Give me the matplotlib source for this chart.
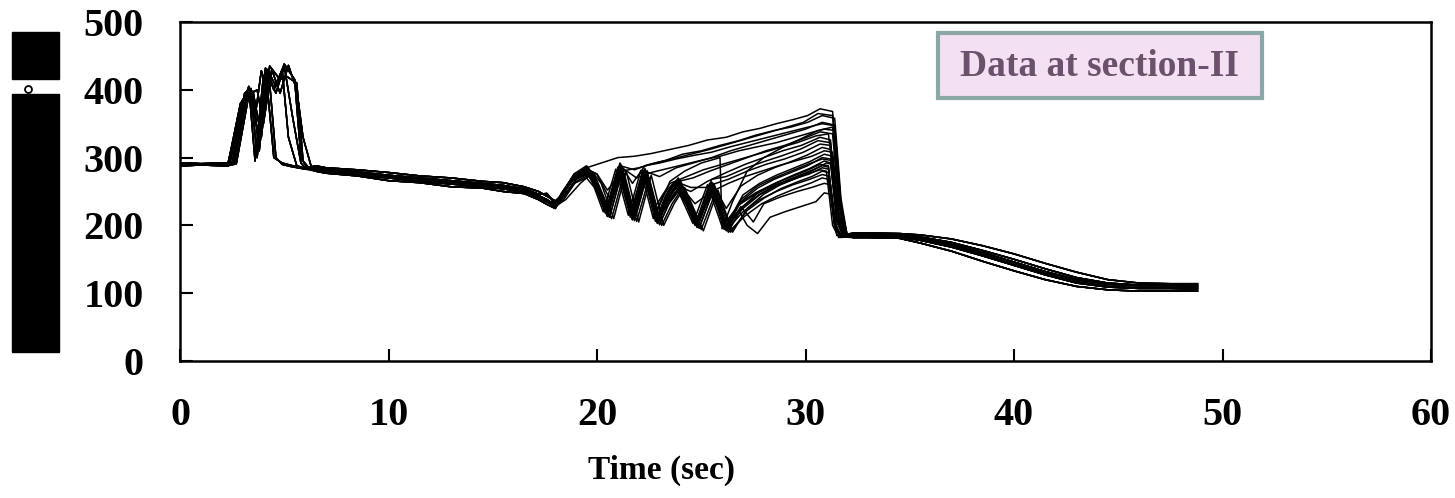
import matplotlib.pyplot as plt
from matplotlib.patches import Rectangle
from matplotlib.lines import Line2D

# ---- data (time in s, temperature) ----
x_ticks = [0, 10, 20, 30, 40, 50, 60]
y_ticks = [0, 100, 200, 300, 400, 500]
x_label = 'Time (sec)'
y_label = 'Temperature (°C)'
legend_text = 'Data at section-II'

# flat start
start_t = [0.0, 1.0, 2.3]
start_v = [[290, 290, 290], [292, 291, 292], [288, 289, 288]]

# first heating peaks (several variants)
peak_t = [
    [2.4, 3.0, 3.4, 3.7, 4.1, 4.5, 4.9, 5.2, 5.6, 6.0],
    [2.5, 3.1, 3.5, 3.8, 4.2, 4.6, 5.0, 5.4, 5.8, 6.0],
    [2.3, 2.9, 3.3, 3.6, 4.0, 4.3, 4.6, 4.9, 5.3, 6.0],
    [2.6, 3.2, 3.5, 3.9, 4.3, 4.8, 5.1, 5.6, 5.9, 6.2],
    [2.5, 3.1, 3.4, 3.8, 4.2, 4.6, 5.0, 5.5, 5.8, 6.1],
    [2.3, 2.9, 3.3, 3.6, 3.9, 4.2, 4.5, 4.9, 5.4, 6.0],
    [2.7, 3.3, 3.7, 4.0, 4.4, 4.8, 5.2, 5.6, 5.9, 6.3],
]
peak_v = [
    [292, 385, 400, 300, 432, 400, 430, 330, 288, 284],
    [290, 380, 395, 310, 425, 395, 435, 360, 292, 285],
    [291, 370, 405, 295, 420, 410, 300, 290, 287, 283],
    [290, 390, 398, 330, 435, 415, 420, 410, 295, 284],
    [291, 395, 402, 320, 430, 405, 438, 415, 300, 285],
    [290, 380, 398, 360, 428, 400, 300, 292, 288, 284],
    [291, 392, 400, 350, 430, 395, 436, 400, 330, 286],
]

# slow cooling 6 - 18 s
mid_t = [6.5, 7.0, 8.5, 10.0, 11.5, 13.0, 14.5, 15.5, 16.5, 17.2, 17.6, 18.0]
mid_v = [
    [284, 281, 277, 273, 268, 264, 260, 257, 252, 244, 238, 230],
    [282, 279, 274, 270, 265, 261, 257, 254, 249, 241, 235, 228],
    [286, 283, 279, 274, 270, 266, 262, 259, 254, 246, 247, 232],
    [280, 277, 273, 266, 263, 257, 255, 250, 247, 238, 231, 225],
    [288, 285, 282, 278, 273, 270, 265, 263, 257, 250, 243, 236],
]

# oscillating zone and ramp up to ~31 s, one entry per trace
osc_t = [
    [18.3, 18.9, 19.5, 20.2, 21.0, 21.8, 22.6, 23.5, 24.4, 25.3, 26.2, 27.0, 27.8, 28.6, 29.4, 30.1, 30.7, 31.3, 31.6, 31.9],
    [18.3, 18.9, 19.5, 19.9, 20.5, 21.1, 21.8, 22.5, 23.3, 24.1, 25.0, 25.9, 26.8, 27.6, 28.5, 29.3, 30.1, 30.8, 31.4, 31.7, 32.0],
    [18.3, 18.9, 19.5, 19.9, 20.5, 21.1, 21.7, 22.3, 23.0, 23.8, 24.6, 25.5, 26.4, 27.3, 28.2, 29.1, 30.0, 30.8, 31.4, 31.7, 32.0],
    [18.3, 18.9, 19.5, 19.9, 20.5, 21.1, 21.7, 22.3, 22.9, 23.5, 24.2, 25.0, 25.9, 26.0, 26.5, 27.2, 28.0, 28.9, 29.8, 30.6, 31.3, 31.6, 31.9],
    [18.3, 18.9, 19.5, 19.9, 20.5, 21.1, 21.7, 22.3, 22.9, 23.4, 23.9, 24.6, 25.4, 26.3, 27.2, 28.1, 29.0, 29.9, 30.7, 31.3, 31.6, 31.9],
    [18.3, 18.9, 19.5, 19.9, 20.5, 21.1, 21.7, 22.3, 22.9, 23.4, 23.9, 24.5, 25.3, 26.2, 27.1, 28.0, 28.9, 29.8, 30.7, 31.2, 31.5, 31.8],
    [18.3, 18.9, 19.5, 19.9, 20.5, 21.1, 21.7, 22.3, 22.9, 23.4, 23.9, 24.8, 25.5, 26.3, 27.2, 28.1, 29.0, 29.9, 30.7, 31.2, 31.5, 31.8],
    [18.3, 18.9, 19.5, 19.9, 20.5, 21.1, 21.7, 22.3, 22.9, 23.4, 23.9, 24.8, 25.5, 26.2, 26.9, 27.7, 28.5, 29.3, 30.1, 30.8, 31.2, 31.5, 31.8],
    [18.4, 19.0, 19.6, 20.0, 20.6, 21.2, 21.8, 22.4, 23.0, 23.5, 24.0, 24.9, 25.6, 26.3, 27.0, 27.8, 28.6, 29.4, 30.2, 30.9, 31.2, 31.5, 31.8],
    [18.2, 18.8, 19.4, 19.8, 20.4, 21.0, 21.6, 22.2, 22.8, 23.3, 23.8, 24.7, 25.4, 26.1, 26.8, 27.6, 28.4, 29.2, 30.0, 30.7, 31.1, 31.4, 31.7],
    [18.3, 18.9, 19.5, 19.9, 20.5, 21.1, 21.7, 22.3, 22.9, 23.4, 23.9, 24.8, 25.5, 26.2, 27.0, 27.8, 28.6, 29.4, 30.2, 30.8, 31.1, 31.4, 31.7],
    [18.4, 19.0, 19.6, 20.1, 20.7, 21.3, 21.9, 22.5, 23.1, 23.6, 24.1, 25.0, 25.7, 26.4, 27.2, 28.0, 28.8, 29.6, 30.3, 30.8, 31.1, 31.4, 31.7],
    [18.3, 18.9, 19.5, 19.9, 20.5, 21.1, 21.7, 22.3, 22.9, 23.4, 23.9, 24.8, 25.5, 26.2, 27.0, 27.8, 28.6, 29.4, 30.2, 30.8, 31.1, 31.4, 31.7],
    [18.3, 18.9, 19.5, 19.9, 20.5, 21.1, 21.7, 22.3, 22.9, 23.4, 23.9, 24.8, 25.5, 26.2, 26.9, 27.5, 28.0, 28.8, 29.6, 30.3, 30.9, 31.2, 31.5, 31.8],
    [18.3, 18.9, 19.5, 19.9, 20.5, 21.1, 21.7, 22.3, 22.9, 23.4, 23.9, 24.8, 25.5, 26.2, 26.8, 27.2, 27.7, 28.3, 29.0, 29.8, 30.5, 30.9, 31.2, 31.5],
    [18.3, 18.9, 19.5, 19.9, 20.5, 21.1, 21.7, 22.3, 22.9, 23.4, 23.9, 24.5, 25.6, 26.2, 26.9, 27.7, 28.5, 29.3, 30.1, 30.8, 31.2, 31.5, 31.8],
    [18.3, 18.9, 19.5, 20.0, 20.6, 21.2, 21.9, 22.6, 23.4, 24.2, 25.0, 25.9, 26.8, 27.7, 28.6, 29.5, 30.4, 30.9, 31.4, 31.7, 32.0],
    [18.3, 18.9, 19.5, 19.9, 20.5, 21.1, 21.7, 22.3, 22.9, 23.4, 23.9, 24.7, 25.5, 26.3, 27.1, 27.9, 28.7, 29.5, 30.3, 30.9, 31.3, 31.6, 31.9],
    [18.3, 18.9, 19.5, 20.0, 20.5, 21.2, 22.0, 22.8, 23.6, 24.5, 25.4, 26.3, 27.2, 28.1, 29.0, 29.9, 30.6, 31.3, 31.6, 31.9],
    [18.2, 18.8, 19.4, 19.9, 20.4, 21.0, 21.6, 22.2, 22.8, 23.5, 24.3, 25.1, 26.0, 26.9, 27.8, 28.7, 29.6, 30.5, 31.1, 31.5, 31.8],
    [18.4, 19.0, 19.6, 20.0, 20.6, 21.2, 21.8, 22.4, 23.0, 23.5, 24.0, 24.9, 25.6, 26.3, 27.0, 27.8, 28.6, 29.4, 30.2, 30.9, 31.3, 31.6, 31.9],
    [18.5, 19.2, 19.8, 20.2, 20.8, 21.4, 22.0, 22.6, 23.2, 23.7, 24.2, 25.1, 25.8, 26.5, 27.2, 28.0, 28.8, 29.6, 30.4, 31.0, 31.3, 31.6, 31.9],
    [18.1, 18.7, 19.3, 19.7, 20.3, 20.9, 21.5, 22.1, 22.7, 23.2, 23.7, 24.6, 25.3, 26.0, 26.8, 27.6, 28.4, 29.2, 30.0, 30.7, 31.0, 31.3, 31.6],
    [18.3, 18.9, 19.5, 19.9, 20.5, 21.1, 21.7, 22.3, 22.9, 23.4, 23.9, 24.8, 25.5, 26.2, 26.9, 27.7, 28.5, 29.3, 30.1, 30.8, 31.2, 31.5, 31.8],
    [18.3, 18.9, 19.5, 19.9, 20.5, 21.1, 21.7, 22.3, 22.9, 23.4, 23.9, 24.8, 25.5, 26.2, 27.0, 27.8, 28.6, 29.4, 30.2, 30.8, 31.1, 31.4, 31.7],
    [18.3, 18.9, 19.5, 19.9, 20.5, 21.1, 21.7, 22.3, 22.9, 23.4, 23.9, 24.8, 25.5, 26.2, 27.1, 28.0, 28.9, 29.8, 30.6, 31.2, 31.5, 31.8],
    [18.4, 19.0, 19.6, 20.0, 20.6, 21.2, 21.8, 22.4, 23.0, 23.5, 24.0, 24.9, 25.6, 26.3, 27.1, 27.9, 28.7, 29.5, 30.3, 30.8, 31.1, 31.4, 31.7],
    [18.3, 18.9, 19.5, 19.9, 20.5, 21.1, 21.7, 22.3, 23.0, 23.8, 24.6, 25.5, 26.4, 27.3, 28.2, 29.1, 30.0, 30.8, 31.4, 31.7, 32.0],
]
osc_v = [
    [248, 275, 285, 292, 300, 302, 306, 312, 318, 326, 330, 338, 343, 350, 356, 362, 372, 368, 250, 186],
    [244, 270, 282, 265, 220, 288, 282, 290, 296, 305, 310, 318, 325, 333, 340, 345, 352, 362, 358, 240, 185],
    [246, 274, 279, 260, 218, 280, 214, 280, 272, 285, 292, 300, 310, 318, 326, 334, 342, 352, 348, 230, 184],
    [243, 270, 283, 266, 216, 282, 208, 276, 222, 265, 280, 292, 300, 195, 235, 280, 300, 315, 328, 340, 345, 235, 185],
    [245, 271, 278, 258, 214, 284, 212, 279, 206, 242, 265, 270, 280, 290, 300, 310, 318, 328, 338, 335, 230, 186],
    [247, 268, 276, 264, 219, 279, 215, 275, 208, 245, 258, 250, 265, 278, 290, 300, 310, 318, 330, 326, 220, 185],
    [244, 273, 281, 261, 213, 286, 209, 277, 203, 238, 263, 200, 260, 268, 280, 290, 298, 308, 320, 318, 215, 184],
    [245, 272, 280, 262, 215, 283, 210, 278, 204, 240, 262, 198, 258, 195, 235, 255, 268, 278, 288, 300, 298, 210, 185],
    [242, 268, 276, 255, 212, 280, 207, 275, 201, 236, 258, 196, 254, 191, 228, 250, 263, 274, 284, 295, 292, 205, 184],
    [240, 266, 279, 268, 218, 281, 212, 280, 206, 245, 265, 200, 262, 194, 232, 248, 260, 270, 280, 290, 288, 200, 183],
    [246, 275, 283, 260, 220, 278, 214, 272, 208, 235, 255, 202, 252, 196, 225, 245, 258, 268, 276, 285, 283, 205, 185],
    [238, 265, 274, 250, 210, 277, 206, 270, 200, 232, 255, 194, 250, 190, 222, 240, 254, 264, 272, 280, 278, 198, 184],
    [243, 270, 279, 264, 216, 280, 211, 276, 205, 242, 260, 199, 256, 193, 220, 238, 250, 260, 268, 275, 273, 200, 183],
    [244, 271, 280, 262, 215, 282, 210, 277, 204, 239, 261, 198, 257, 192, 228, 205, 232, 242, 250, 256, 262, 260, 195, 183],
    [245, 270, 278, 260, 214, 281, 209, 276, 203, 238, 260, 197, 255, 200, 222, 200, 188, 212, 220, 228, 235, 248, 246, 185],
    [246, 273, 281, 263, 217, 284, 211, 279, 205, 241, 263, 256, 256, 198, 238, 258, 270, 280, 290, 298, 296, 212, 185],
    [246, 272, 284, 275, 240, 285, 270, 278, 284, 290, 296, 302, 310, 316, 322, 330, 338, 342, 340, 225, 186],
    [244, 270, 280, 261, 214, 283, 211, 277, 206, 240, 262, 232, 250, 262, 272, 280, 288, 295, 302, 310, 308, 215, 185],
    [247, 274, 283, 276, 252, 280, 285, 292, 298, 305, 312, 320, 328, 336, 344, 352, 365, 362, 245, 185],
    [241, 266, 282, 270, 219, 286, 216, 282, 228, 262, 272, 282, 290, 298, 306, 314, 322, 332, 335, 225, 184],
    [243, 268, 284, 266, 222, 286, 212, 281, 207, 244, 266, 204, 262, 205, 245, 262, 274, 284, 294, 305, 302, 220, 186],
    [238, 262, 278, 262, 210, 280, 205, 274, 200, 232, 256, 192, 252, 190, 225, 246, 260, 270, 282, 292, 290, 205, 184],
    [236, 264, 278, 270, 220, 283, 215, 281, 210, 246, 264, 203, 260, 198, 230, 246, 258, 266, 275, 282, 280, 200, 182],
    [246, 276, 288, 270, 223, 290, 218, 284, 212, 250, 270, 210, 264, 225, 258, 274, 285, 294, 304, 315, 312, 218, 185],
    [240, 262, 270, 255, 222, 270, 218, 265, 212, 230, 250, 206, 245, 200, 228, 246, 260, 270, 280, 288, 286, 202, 184],
    [245, 272, 286, 268, 218, 287, 213, 282, 208, 246, 268, 204, 268, 272, 284, 294, 303, 313, 325, 322, 220, 185],
    [242, 268, 277, 258, 212, 279, 208, 273, 202, 236, 258, 196, 254, 190, 214, 232, 244, 254, 263, 270, 268, 198, 182],
    [244, 270, 285, 272, 226, 292, 262, 288, 292, 298, 303, 308, 316, 323, 330, 337, 344, 350, 347, 232, 185],
]

# final cooling after ~32 s
end_t = [32.3, 33.0, 34.5, 35.5, 37.0, 38.5, 40.0, 41.5, 43.0, 44.5, 46.0, 47.5, 48.8]
end_v = [
    [186, 186, 185, 181, 172, 160, 146, 132, 120, 113, 111, 111, 110],
    [184, 184, 183, 178, 168, 155, 141, 127, 115, 109, 107, 107, 106],
    [187, 187, 186, 183, 175, 163, 150, 136, 123, 115, 112, 112, 112],
    [182, 182, 181, 174, 162, 147, 133, 120, 110, 105, 103, 103, 103],
    [189, 189, 188, 186, 180, 170, 158, 144, 131, 120, 115, 114, 114],
    [185, 185, 184, 180, 170, 157, 143, 129, 117, 110, 108, 108, 108],
]

serif = ['Liberation Serif', 'DejaVu Serif']

fig = plt.figure(figsize=(14.55, 4.98), dpi=100)
ax = fig.add_axes([180 / 1455, 1 - 361 / 498, 1251 / 1455, 339 / 498])

for i in range(len(osc_t)):
    t = start_t + peak_t[i % 7] + mid_t + osc_t[i] + end_t
    v = start_v[i % 3] + peak_v[i % 7] + mid_v[i % 5] + osc_v[i] + end_v[i % 6]
    ax.plot(t, v, color='black', linewidth=1.1)

ax.set_xlim(0, 60)
ax.set_ylim(0, 500)
ax.set_xticks(x_ticks)
ax.set_yticks(y_ticks)
ax.set_xticklabels([str(x) for x in x_ticks], family=serif, fontsize=29, fontweight='bold')
ax.set_yticklabels([str(y) for y in y_ticks], family=serif, fontsize=29, fontweight='bold')
ax.tick_params(axis='both', direction='in', length=9, width=1.5)
ax.tick_params(axis='x', pad=26)
ax.tick_params(axis='y', pad=26)
for s in ax.spines.values():
    s.set_linewidth(1.8)

fig.text(662 / 1455, 1 - 470 / 498, x_label, ha='center', va='center',
         family=serif, fontsize=24, fontweight='bold')

# y label shows up as black blocks in the reference
fig.add_artist(Rectangle((12 / 1455, 1 - 79 / 498), 47 / 1455, 47 / 498,
                         transform=fig.transFigure, color='black'))
fig.add_artist(Rectangle((12 / 1455, 1 - 352 / 498), 47 / 1455, 258 / 498,
                         transform=fig.transFigure, color='black'))
fig.add_artist(Line2D([28 / 1455], [1 - 89 / 498], transform=fig.transFigure,
                      marker='o', markersize=5, markerfacecolor='white',
                      markeredgecolor='black', markeredgewidth=1.3, linestyle='none'))
fig.text(35 / 1455, 1 - 200 / 498, y_label, rotation=90, ha='center', va='center',
         color='black', fontsize=20, fontweight='bold', family=serif, zorder=5)

# legend-like box
fig.add_artist(Rectangle((938 / 1455, 1 - 98 / 498), 324 / 1455, 65 / 498,
                         transform=fig.transFigure, facecolor='#F3E1F3',
                         edgecolor='#8BA7A6', linewidth=3))
fig.text(1100 / 1455, 1 - 66 / 498, legend_text, ha='center', va='center',
         color='#6B516B', family=serif, fontsize=27, fontweight='bold')

fig.savefig('out.png', dpi=100)
